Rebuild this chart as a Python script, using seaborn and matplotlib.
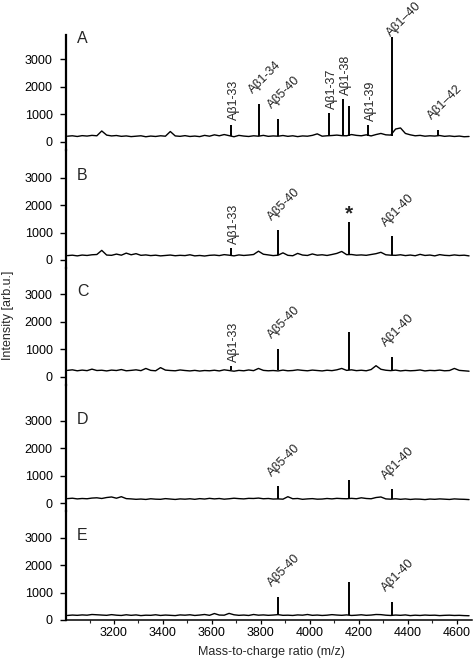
import matplotlib.pyplot as plt
import seaborn as sns
import pandas as pd
import numpy as np
from matplotlib.ticker import MultipleLocator

# sampled m/z positions for the noisy baseline of every trace
mz_grid = [3010, 3030, 3050, 3070, 3090, 3110, 3130, 3150, 3170, 3190,
           3210, 3230, 3250, 3270, 3290, 3310, 3330, 3350, 3370, 3390,
           3410, 3430, 3450, 3470, 3490, 3510, 3530, 3550, 3570, 3590,
           3610, 3630, 3650, 3670, 3690, 3710, 3730, 3750, 3770, 3790,
           3810, 3830, 3850, 3870, 3890, 3910, 3930, 3950, 3970, 3990,
           4010, 4030, 4050, 4070, 4090, 4110, 4130, 4150, 4170, 4190,
           4210, 4230, 4250, 4270, 4290, 4310, 4330, 4350, 4370, 4390,
           4410, 4430, 4450, 4470, 4490, 4510, 4530, 4550, 4570, 4590,
           4610, 4630, 4650]

baseline_a = [200, 215, 190, 220, 205, 230, 215, 390, 240, 210,
              225, 195, 210, 185, 200, 215, 180, 205, 190, 215,
              200, 370, 210, 195, 220, 190, 205, 185, 230, 200,
              250, 215, 260, 220, 180, 230, 205, 190, 215, 200,
              230, 195, 210, 200, 225, 195, 215, 185, 210, 200,
              230, 285, 200, 215, 225, 240, 220, 215, 260, 230,
              215, 250, 210, 260, 300, 250, 240, 460, 500, 300,
              250, 215, 230, 200, 215, 205, 225, 195, 210, 190,
              205, 180, 190]
baseline_b = [160, 175, 150, 180, 165, 190, 200, 350, 180, 170,
              215, 175, 250, 190, 230, 170, 185, 160, 175, 150,
              165, 180, 155, 170, 160, 190, 150, 165, 145, 170,
              180, 160, 195, 175, 150, 185, 165, 180, 200, 320,
              210, 185, 160, 175, 260, 170, 155, 240, 180, 165,
              220, 175, 190, 165, 200, 240, 310, 195, 200, 175,
              185, 170, 200, 230, 280, 190, 175, 170, 190, 160,
              180, 155, 205, 165, 180, 150, 195, 170, 160, 185,
              165, 175, 150]
baseline_c = [230, 250, 215, 240, 220, 275, 225, 235, 210, 240,
              225, 260, 215, 230, 250, 220, 300, 230, 215, 330,
              240, 225, 215, 245, 225, 210, 230, 205, 225, 215,
              235, 210, 250, 225, 200, 230, 215, 245, 220, 300,
              230, 215, 225, 210, 240, 215, 225, 250, 230, 215,
              240, 225, 210, 235, 220, 250, 300, 230, 250, 220,
              235, 215, 260, 400, 270, 235, 220, 240, 210, 230,
              215, 225, 245, 210, 230, 220, 240, 215, 225, 300,
              230, 215, 200]
baseline_d = [170, 185, 160, 175, 165, 190, 200, 175, 210, 230,
              185, 240, 170, 160, 145, 155, 140, 165, 150, 145,
              170, 155, 140, 160, 150, 165, 145, 170, 155, 180,
              160, 175, 150, 165, 185, 170, 160, 180, 175, 190,
              165, 175, 155, 160, 150, 240, 165, 175, 145, 160,
              170, 150, 155, 175, 160, 180, 170, 165, 180, 165,
              200, 175, 165, 210, 230, 160, 150, 165, 145, 160,
              140, 155, 150, 135, 155, 145, 160, 150, 140, 160,
              150, 145, 135]
baseline_e = [165, 180, 170, 185, 175, 200, 190, 180, 170, 195,
              175, 165, 190, 170, 185, 160, 175, 170, 190, 165,
              180, 170, 160, 185, 175, 190, 165, 180, 200, 170,
              235, 180, 175, 240, 190, 170, 180, 165, 200, 175,
              185, 170, 180, 195, 170, 175, 165, 185, 175, 200,
              170, 180, 165, 175, 195, 180, 170, 185, 165, 175,
              190, 170, 180, 200, 195, 175, 165, 180, 170, 185,
              160, 175, 165, 180, 170, 175, 160, 170, 175, 165,
              170, 160, 155]

# peaks: m/z, intensity, annotation
peaks_a_mz = [3677, 3792, 3870, 4080, 4135, 4159, 4238, 4335, 4522]
peaks_a_int = [625, 1375, 840, 1040, 1560, 1290, 590, 3810, 440]
peaks_a_lab = ['Aβ1-33', 'Aβ1-34', 'Aβ5-40', 'Aβ1-37', 'Aβ1-38', '',
               'Aβ1-39', 'Aβ1–40', 'Aβ1–42']

peaks_b_mz = [3677, 3870, 4159, 4335]
peaks_b_int = [420, 1075, 1370, 860]
peaks_b_lab = ['Aβ1-33', 'Aβ5-40', '*', 'Aβ1-40']

peaks_c_mz = [3677, 3870, 4159, 4335]
peaks_c_int = [400, 1010, 1625, 710]
peaks_c_lab = ['Aβ1-33', 'Aβ5-40', '', 'Aβ1-40']

peaks_d_mz = [3870, 4159, 4335]
peaks_d_int = [620, 860, 510]
peaks_d_lab = ['Aβ5-40', '', 'Aβ1-40']

peaks_e_mz = [3870, 4159, 4335]
peaks_e_int = [830, 1370, 670]
peaks_e_lab = ['Aβ5-40', '', 'Aβ1-40']

panel_letters = ['A', 'B', 'C', 'D', 'E']
y_ticks = [0, 1000, 2000, 3000]
x_ticks = [3200, 3400, 3600, 3800, 4000, 4200, 4400, 4600]

panels = [
    (baseline_a, peaks_a_mz, peaks_a_int, peaks_a_lab),
    (baseline_b, peaks_b_mz, peaks_b_int, peaks_b_lab),
    (baseline_c, peaks_c_mz, peaks_c_int, peaks_c_lab),
    (baseline_d, peaks_d_mz, peaks_d_int, peaks_d_lab),
    (baseline_e, peaks_e_mz, peaks_e_int, peaks_e_lab),
]

vertical_labels = {'Aβ1-33', 'Aβ1-37', 'Aβ1-38', 'Aβ1-39'}
# the tall Aβ1-40 label in panel A starts beside its peak to stay inside the figure
label_shift = {(0, 'Aβ1–40'): (5, -60)}

sns.set_theme(style='white')
plt.rcParams['font.family'] = ['Liberation Sans', 'DejaVu Sans']

W, H = 473, 664
fig = plt.figure(figsize=(W / 100, H / 100), dpi=100)

# panel geometry in pixels: top, bottom, y of the zero tick
panel_px = [(35, 150, 141.7), (150, 268, 260), (268, 385, 376.7),
            (385, 511, 503.3), (511, 620, 620)]
left_px, right_px = 66, 472
px_per_unit = 0.0275
letter_y = [3735, 3090, 3116, 3065, 3090]

for i, (base, pmz, pint, plab) in enumerate(panels):
    top, bot, zero = panel_px[i]
    ax = fig.add_axes([left_px / W, 1 - bot / H, (right_px - left_px) / W, (bot - top) / H])
    ax.patch.set_alpha(0)

    df = pd.DataFrame({'mz': mz_grid, 'intensity': base})
    sns.lineplot(data=df, x='mz', y='intensity', ax=ax, color='black', lw=1.0)
    ax.vlines(pmz, float(np.median(base)), pint, color='black', lw=1.4)

    for mz, h, lab in zip(pmz, pint, plab):
        if lab == '':
            continue
        if lab == '*':
            ax.text(mz, h + 300, '*', ha='center', va='center', fontsize=15,
                    fontweight='bold', clip_on=False)
        elif lab in vertical_labels:
            ax.text(mz + 12, h + 150, lab, rotation=90, rotation_mode='anchor',
                    ha='left', va='center', fontsize=9, clip_on=False)
        else:
            dx, gap = label_shift.get((i, lab), (-15, 280))
            ax.text(mz + dx, h + gap, lab, rotation=45, rotation_mode='anchor',
                    ha='left', va='bottom', fontsize=9, clip_on=False)

    ax.text(3049, letter_y[i], panel_letters[i], fontsize=11.5, ha='left', va='center')

    ax.set_xlim(3004, 4662)
    ax.set_ylim(-(bot - zero) / px_per_unit, (zero - top) / px_per_unit)
    ax.set_yticks(y_ticks)
    ax.set_yticklabels([str(t) for t in y_ticks])
    ax.set_xlabel('')
    ax.set_ylabel('')
    for s in ['top', 'right']:
        ax.spines[s].set_visible(False)
    ax.spines['left'].set_linewidth(1.6)
    ax.spines['left'].set_color('black')
    ax.tick_params(axis='y', direction='out', length=4.5, width=1.0,
                   labelsize=9, pad=5, colors='black', left=True)

    if i < 4:
        ax.spines['bottom'].set_visible(False)
        ax.set_xticks([])
    else:
        ax.spines['bottom'].set_linewidth(1.1)
        ax.spines['bottom'].set_color('black')
        ax.set_xticks(x_ticks)
        ax.set_xticklabels([str(t) for t in x_ticks])
        ax.xaxis.set_minor_locator(MultipleLocator(100))
        ax.tick_params(axis='x', which='major', direction='out', length=3,
                       width=0.9, labelsize=9, pad=2, colors='black', bottom=True)
        ax.tick_params(axis='x', which='minor', direction='out', length=2,
                       width=0.8, bottom=True)

fig.text(8 / W, 1 - 315 / H, 'Intensity [arb.u.]', rotation=90,
         ha='center', va='center', fontsize=9)
fig.text(271 / W, 1 - 652 / H, 'Mass-to-charge ratio (m/z)',
         ha='center', va='center', fontsize=9)

fig.savefig('out.png', dpi=100)
